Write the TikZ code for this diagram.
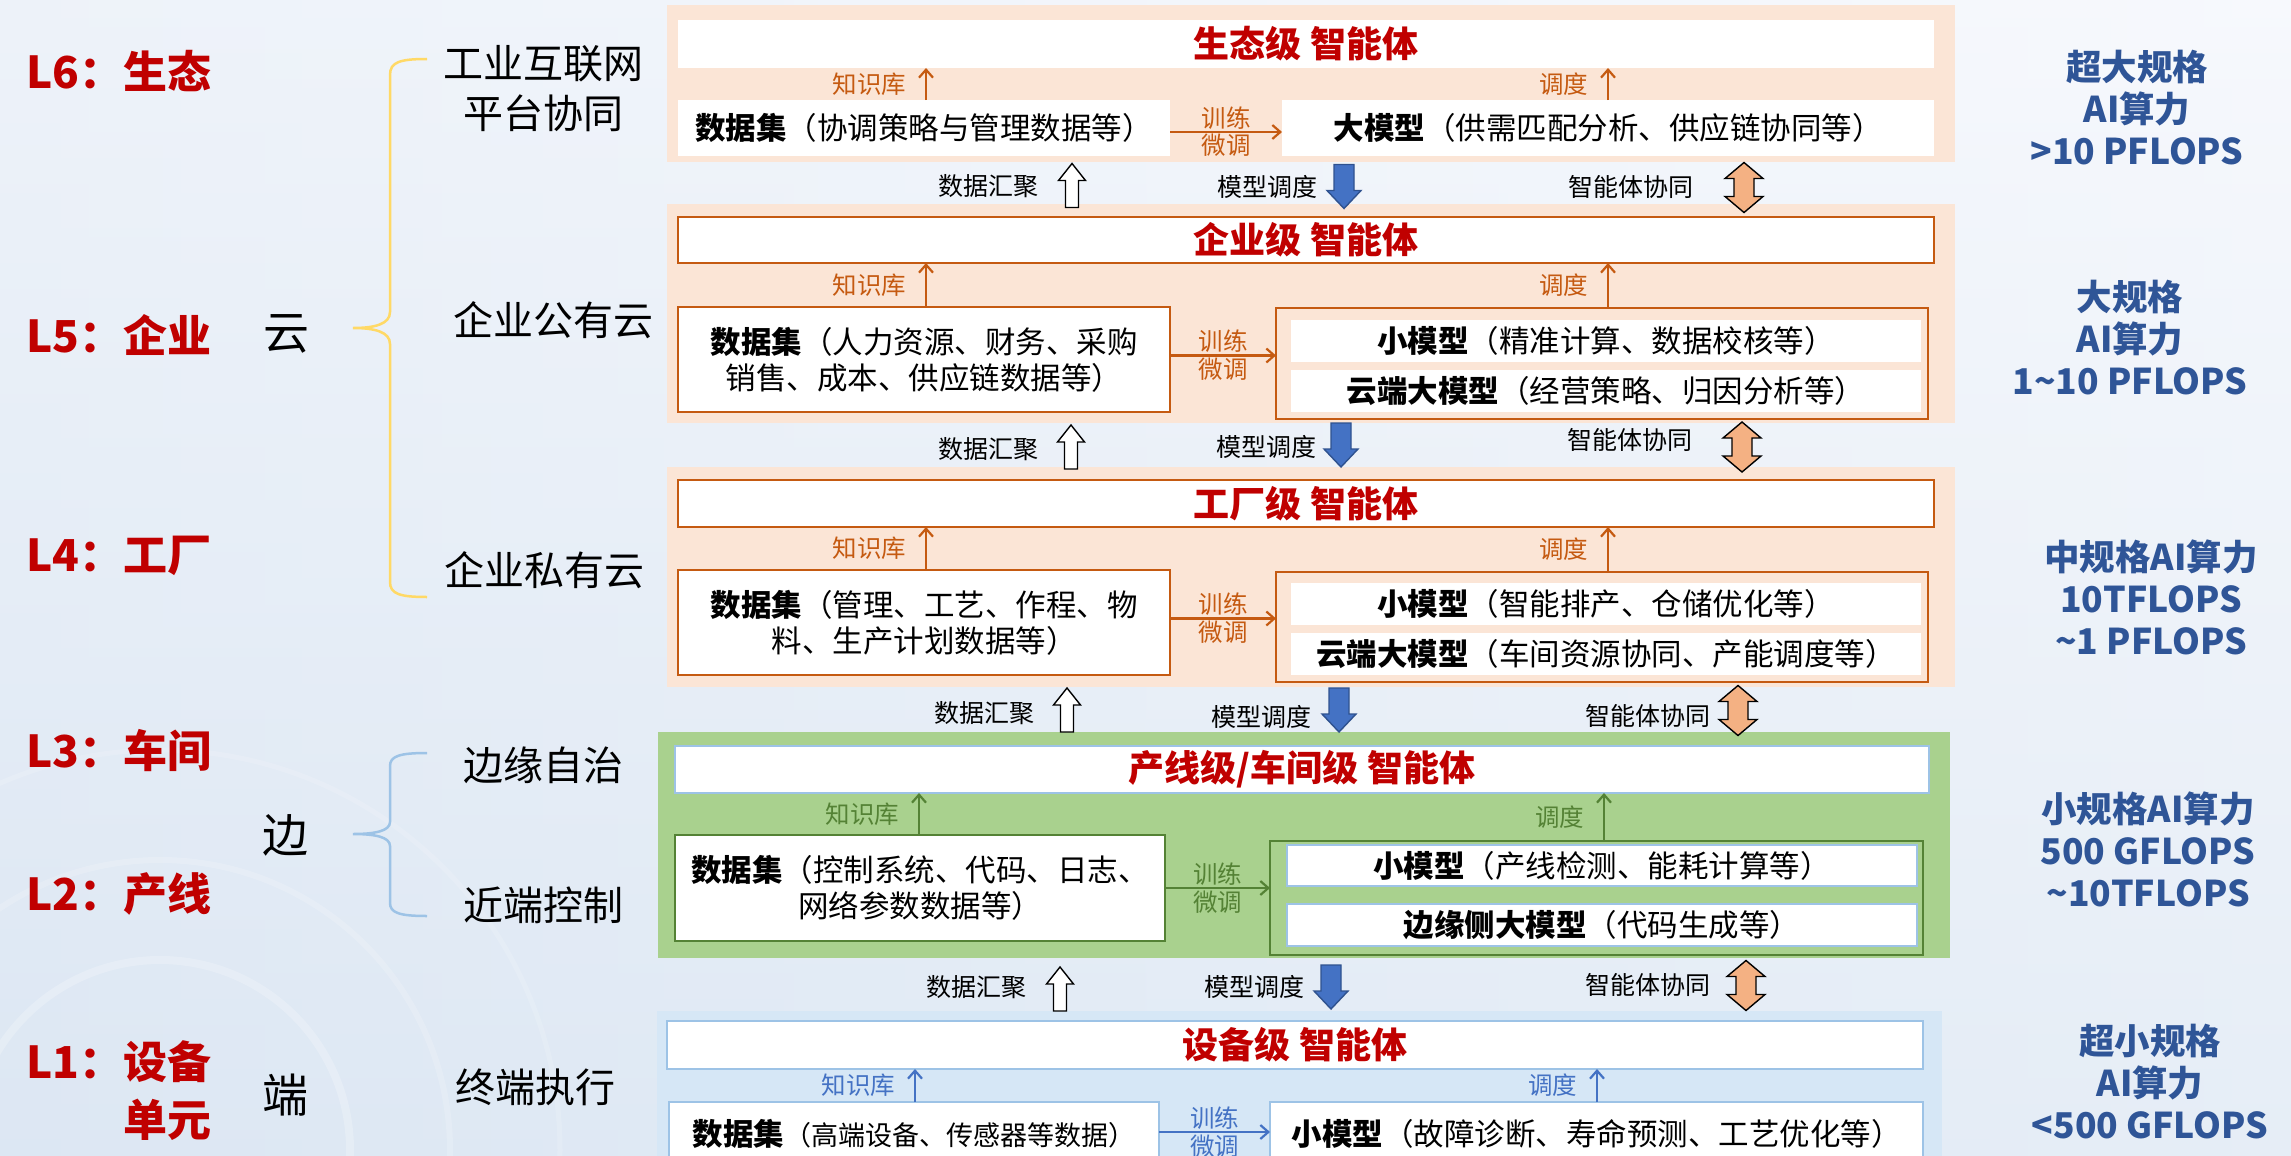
\documentclass[tikz,border=0pt]{standalone}
\usepackage{fontspec}
\setmainfont{Noto Sans CJK SC}
\usetikzlibrary{arrows.meta,calc}
\definecolor{peach}{HTML}{FBE5D6}
\definecolor{orgline}{HTML}{C55A11}
\definecolor{grnbg}{HTML}{A9D18E}
\definecolor{grnline}{HTML}{548235}
\definecolor{blubg}{HTML}{D6E7F6}
\definecolor{bluline}{HTML}{9DC3E6}
\definecolor{bluarr}{HTML}{4472C4}
\definecolor{bluarrline}{HTML}{2F528F}
\definecolor{titred}{HTML}{C00000}
\definecolor{rightblue}{HTML}{2F5597}
\definecolor{dblfill}{HTML}{F4B183}
\definecolor{bgl}{HTML}{E4ECF6}
\definecolor{bgr}{HTML}{F7F9FD}
\definecolor{bgb}{HTML}{D6E3F1}
\definecolor{braceyel}{HTML}{FFD966}
\newcommand\fsz[2]{\fontsize{#1}{#2}\selectfont}
\begin{document}
\begin{tikzpicture}[x=1pt,y=-1pt,
  every node/.style={inner sep=0pt, outer sep=0pt},
  wbox/.style={fill=white, align=center, text=black, font=\fsz{30.5}{36}},
  obox/.style={wbox, draw=orgline, line width=2.5pt},
  gbox/.style={wbox, draw=grnline, line width=2.5pt},
  lbbox/.style={wbox, draw=bluline, line width=2pt},
  ttl/.style={wbox, text=titred, font=\fsz{36}{42}\bfseries},
  lab/.style={font=\fsz{24.5}{28}},
  lab2/.style={font=\fsz{25}{28}, text=black},
  rlab/.style={font=\fsz{35.5}{42}\bfseries, text=rightblue, align=center},
  llab/.style={font=\fsz{44}{58}\bfseries, text=titred, anchor=west, align=left},
  mlab/.style={font=\fsz{40}{50}, align=center, text=black},
  oar/.style={draw=orgline, line width=2.2pt, -{Straight Barb[length=8pt,width=14pt]}},
  gar/.style={draw=grnline, line width=2.2pt, -{Straight Barb[length=8pt,width=14pt]}},
  bar/.style={draw=bluarr, line width=2.2pt, -{Straight Barb[length=8pt,width=14pt]}},
  hollowup/.pic={\draw[line width=1.4pt, fill=white, draw=black] (-6.5,22) -- (-6.5,-5) -- (-13.5,-5) -- (0,-22) -- (13.5,-5) -- (6.5,-5) -- (6.5,22) -- cycle;},
  bluedown/.pic={\draw[line width=1.4pt, fill=bluarr, draw=bluarrline] (-10,-22) -- (-10,4) -- (-17,4) -- (0,22) -- (17,4) -- (10,4) -- (10,-22) -- cycle;},
  dblarr/.pic={\draw[line width=1.4pt, fill=dblfill, draw=black] (0,-25) -- (19,-9) -- (10,-9) -- (10,9) -- (19,9) -- (0,25) -- (-19,9) -- (-10,9) -- (-10,-9) -- (-19,-9) -- cycle;}
]
\useasboundingbox (0,0) rectangle (2291,1156);
\clip (0,0) rectangle (2291,1156);
% background
\shade[left color=bgl, right color=bgr] (0,0) rectangle (2291,1156);
\shade[top color=bgr, bottom color=bgb, opacity=0.5] (0,0) rectangle (2291,1156);
\draw[white, opacity=0.22, line width=8pt] (160,1150) circle (190);
\draw[white, opacity=0.18, line width=6pt] (160,1150) circle (290);
\draw[white, opacity=0.15, line width=5pt] (160,1150) circle (400);

% ---------- left labels ----------
\node[llab] (L6) at (26,71) {L6：生态};
\node[llab] (L5) at (26,335) {L5：企业};
\node[llab] (L4) at (26,556) {L4：工厂};
\node[llab] (L3) at (26,751) {L3：车间};
\node[llab] (L2) at (26,894) {L2：产线};
\node[llab] (L1) at (26,1091) {L1：设备\\\phantom{L1：}单元};

\node[mlab, font=\fsz{46}{56}] (yun) at (286,334) {云};
\node[mlab, font=\fsz{46}{56}] (bian) at (285,835) {边};
\node[mlab, font=\fsz{46}{56}] (duan) at (285,1095) {端};

% braces
\draw[braceyel, line width=2.5pt] (427,59) .. controls (400,59) and (390,62) .. (390,75) -- (390,312) .. controls (390,324) and (375,328) .. (353,328) .. controls (375,328) and (390,332) .. (390,344) -- (390,582) .. controls (390,594) and (400,597) .. (427,597);
\draw[bluline, line width=2.5pt] (427,753) .. controls (400,753) and (390,756) .. (390,766) -- (390,822) .. controls (390,831) and (375,834) .. (353,834) .. controls (375,834) and (390,837) .. (390,846) -- (390,903) .. controls (390,913) and (400,916) .. (427,916);

\node[mlab] (m1lab) at (543,89) {工业互联网\\平台协同};
\node[mlab] (m2lab) at (553,320) {企业公有云};
\node[mlab] (m3lab) at (544,570) {企业私有云};
\node[mlab] (m4lab) at (543,765) {边缘自治};
\node[mlab] (m5lab) at (543,905) {近端控制};
\node[mlab] (m6lab) at (535,1087) {终端执行};

% ---------- right labels ----------
\node[rlab] (r6) at (2137,108) {超大规格\\AI算力\\>10 PFLOPS};
\node[rlab] (r5) at (2130,338) {大规格\\AI算力\\1\textasciitilde10 PFLOPS};
\node[rlab] (r4) at (2151,597) {中规格AI算力\\10TFLOPS\\\textasciitilde1 PFLOPS};
\node[rlab] (r3) at (2148,849) {小规格AI算力\\500 GFLOPS\\\textasciitilde10TFLOPS};
\node[rlab] (r1) at (2150,1082) {超小规格\\AI算力\\<500 GFLOPS};

% ---------- L6 panel ----------
\fill[peach] (667,5) rectangle (1955,162);
\node[ttl, minimum width=1256, minimum height=48] (t6) at (1306,44) {生态级 智能体};
\node[wbox, minimum width=492, minimum height=56] (d6) at (924,128) {\textbf{数据集}（协调策略与管理数据等）};
\node[wbox, minimum width=652, minimum height=56] (m6) at (1608,128) {\textbf{大模型}（供需匹配分析、供应链协同等）};
\coordinate (k6) at (926,0);
\coordinate (s6) at (1608,0);
\draw[oar] (d6.north -| k6) -- node[lab, text=orgline, left=20pt] (kl6) {知识库} (t6.south -| k6);
\draw[oar] (m6.north -| s6) -- node[lab, text=orgline, left=20pt] (sl6) {调度} (t6.south -| s6);
\draw[oar] ([yshift=-4pt]d6.east) -- ([yshift=-4pt]d6.east -| m6.west)
  node[midway, lab, text=orgline, yshift=14pt] (tr6) {训练}
  node[midway, lab, text=orgline, yshift=-13pt] (wt6) {微调};

% ---------- L5 panel ----------
\fill[peach] (667,204) rectangle (1955,423);
\node[ttl, draw=orgline, line width=2.5pt, minimum width=1256, minimum height=46] (t5) at (1306,240) {企业级 智能体};
\node[obox, minimum width=492, minimum height=105] (d5) at (924,359.5) {\textbf{数据集}（人力资源、财务、采购\\销售、成本、供应链数据等）};
\node[draw=orgline, line width=2.5pt, minimum width=652, minimum height=111] (m5) at (1602,363.5) {};
\node[wbox, minimum width=630, minimum height=42] (m5a) at (1606,341) {\textbf{小模型}（精准计算、数据校核等）};
\node[wbox, minimum width=630, minimum height=42] (m5b) at (1606,391) {\textbf{云端大模型}（经营策略、归因分析等）};
\coordinate (k5) at (926,0);
\coordinate (s5) at (1608,0);
\draw[oar] (d5.north -| k5) -- node[lab, text=orgline, left=20pt] (kl5) {知识库} (t5.south -| k5);
\draw[oar] (m5.north -| s5) -- node[lab, text=orgline, left=20pt] (sl5) {调度} (t5.south -| s5);
\draw[oar] ([yshift=4pt]d5.east) -- ([yshift=4pt]d5.east -| m5.west)
  node[midway, lab, text=orgline, yshift=14pt] (tr5) {训练}
  node[midway, lab, text=orgline, yshift=-14pt] (wt5) {微调};

% ---------- L4 panel ----------
\fill[peach] (667,467) rectangle (1955,687);
\node[ttl, draw=orgline, line width=2.5pt, minimum width=1256, minimum height=47] (t4) at (1306,503.5) {工厂级 智能体};
\node[obox, minimum width=492, minimum height=105] (d4) at (924,622.5) {\textbf{数据集}（管理、工艺、作程、物\\料、生产计划数据等）};
\node[draw=orgline, line width=2.5pt, minimum width=652, minimum height=110] (m4) at (1602,627) {};
\node[wbox, minimum width=630, minimum height=42] (m4a) at (1606,604) {\textbf{小模型}（智能排产、仓储优化等）};
\node[wbox, minimum width=630, minimum height=42] (m4b) at (1606,654) {\textbf{云端大模型}（车间资源协同、产能调度等）};
\coordinate (k4) at (926,0);
\coordinate (s4) at (1608,0);
\draw[oar] (d4.north -| k4) -- node[lab, text=orgline, left=20pt] (kl4) {知识库} (t4.south -| k4);
\draw[oar] (m4.north -| s4) -- node[lab, text=orgline, left=20pt] (sl4) {调度} (t4.south -| s4);
\draw[oar] ([yshift=4pt]d4.east) -- ([yshift=4pt]d4.east -| m4.west)
  node[midway, lab, text=orgline, yshift=14pt] (tr4) {训练}
  node[midway, lab, text=orgline, yshift=-14pt] (wt4) {微调};

% ---------- L3 panel ----------
\fill[grnbg] (658,732) rectangle (1950,958);
\node[ttl, draw=bluline, line width=2pt, minimum width=1254, minimum height=47] (t3) at (1302,769.5) {产线级/车间级 智能体};
\node[gbox, minimum width=490, minimum height=106] (d3) at (920,888) {\textbf{数据集}（控制系统、代码、日志、\\网络参数数据等）};
\node[draw=grnline, line width=2.5pt, minimum width=653, minimum height=114] (m3) at (1596.5,898) {};
\node[lbbox, minimum width=630, minimum height=41] (m3a) at (1602,865.5) {\textbf{小模型}（产线检测、能耗计算等）};
\node[lbbox, minimum width=630, minimum height=42] (m3b) at (1602,925) {\textbf{边缘侧大模型}（代码生成等）};
\coordinate (k3) at (919,0);
\coordinate (s3) at (1604,0);
\draw[gar] (d3.north -| k3) -- node[lab, text=grnline, left=20pt] (kl3) {知识库} (t3.south -| k3);
\draw[gar] (m3.north -| s3) -- node[lab, text=grnline, left=20pt] (sl3) {调度} (t3.south -| s3);
\draw[gar] (d3.east) -- (d3.east -| m3.west)
  node[midway, lab, text=grnline, yshift=14pt] (tr3) {训练}
  node[midway, lab, text=grnline, yshift=-14pt] (wt3) {微调};

% ---------- L1 panel ----------
\fill[blubg] (657,1011) rectangle (1942,1170);
\node[ttl, draw=bluline, line width=2pt, minimum width=1256, minimum height=48] (t1) at (1295,1045) {设备级 智能体};
\node[lbbox, minimum width=490, minimum height=64] (d1) at (914,1134) {\textbf{数据集}{\fsz{27}{32}（高端设备、传感器等数据）}};
\node[lbbox, minimum width=653, minimum height=64] (m1) at (1596.5,1134) {\textbf{小模型}（故障诊断、寿命预测、工艺优化等）};
\coordinate (k1) at (915,0);
\coordinate (s1) at (1597,0);
\draw[bar] (d1.north -| k1) -- node[lab, text=bluarr, left=20pt] (kl1) {知识库} (t1.south -| k1);
\draw[bar] (m1.north -| s1) -- node[lab, text=bluarr, left=20pt] (sl1) {调度} (t1.south -| s1);
\draw[bar] ([yshift=2pt]d1.east) -- ([yshift=2pt]d1.east -| m1.west)
  node[midway, lab, text=bluarr, yshift=14pt] (tr1) {训练}
  node[midway, lab, text=bluarr, yshift=-14pt] (wt1) {微调};

% ---------- inter-level arrows ----------
\node[lab2] (dh65) at (988,186) {数据汇聚};
\pic at (1072,185.5) {hollowup};
\node[lab2] (mx65) at (1267,187) {模型调度};
\pic at (1344,186.5) {bluedown};
\node[lab2] (xt65) at (1631,187) {智能体协同};
\pic at (1744,187.5) {dblarr};

\node[lab2] (dh54) at (988,449) {数据汇聚};
\pic at (1071,447) {hollowup};
\node[lab2] (mx54) at (1266,447) {模型调度};
\pic at (1341,445) {bluedown};
\node[lab2] (xt54) at (1630,440) {智能体协同};
\pic at (1742,447) {dblarr};

\node[lab2] (dh43) at (984,713) {数据汇聚};
\pic at (1067,710) {hollowup};
\node[lab2] (mx43) at (1261,717) {模型调度};
\pic at (1339,710) {bluedown};
\node[lab2] (xt43) at (1648,716) {智能体协同};
\pic at (1738,710.5) {dblarr};

\node[lab2] (dh31) at (976,987) {数据汇聚};
\pic at (1060,989) {hollowup};
\node[lab2] (mx31) at (1254,987) {模型调度};
\pic at (1331,987) {bluedown};
\node[lab2] (xt31) at (1648,985) {智能体协同};
\pic at (1746,985.5) {dblarr};
\end{tikzpicture}
\end{document}
